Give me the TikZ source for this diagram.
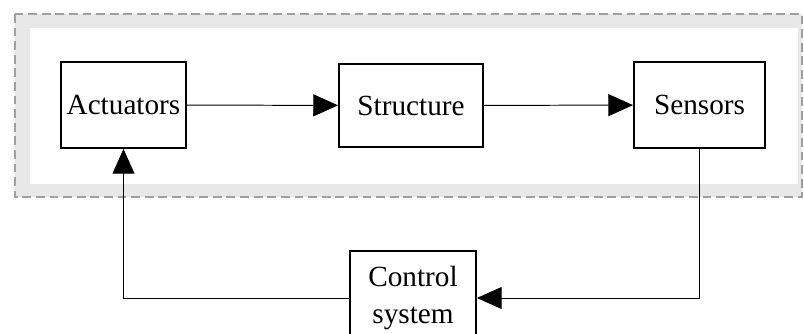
\documentclass[tikz,border=0pt]{standalone}
\usepackage{fontspec}
\setmainfont{Liberation Serif}
\usetikzlibrary{positioning,arrows.meta}

\begin{document}
\begin{tikzpicture}[x=0.025cm, y=-0.025cm,
  blk/.style={draw, line width=1.3pt, inner sep=0pt, align=center, font=\fontsize{20.8}{24}\selectfont, minimum height=2.15cm},
  arr/.style={-{Triangle[length=0.62cm, width=0.55cm]}, line width=0.7pt},
  lnk/.style={line width=0.7pt}]
\useasboundingbox (0,0) rectangle (804,334);
% frame round the plant
\draw[gray!75, dash pattern=on 0.22cm off 0.12cm, line width=0.9pt, fill=gray!18] (15,14) rectangle (802,197);
\fill[white] (30,28) rectangle (798,184);
\node[blk, minimum width=3.125cm] (act)  at (123.5,105) {Actuators};
\node[blk, minimum width=3.6cm, minimum height=2.075cm] (str) at (411,105.5) {Structure};
\node[blk, minimum width=3.275cm] (sen)  at (699.5,105) {Sensors};
\node[blk, minimum width=3.15cm, minimum height=2.35cm] (ctrl) at (413,298) {Control\\[2pt]system};
\draw[arr] (act) -- (str); \draw[arr] (str) -- (sen);
\draw[arr] (sen.south) |- (ctrl.east);
\draw[arr] (ctrl.west) -| (act.south);
\end{tikzpicture}
\end{document}
